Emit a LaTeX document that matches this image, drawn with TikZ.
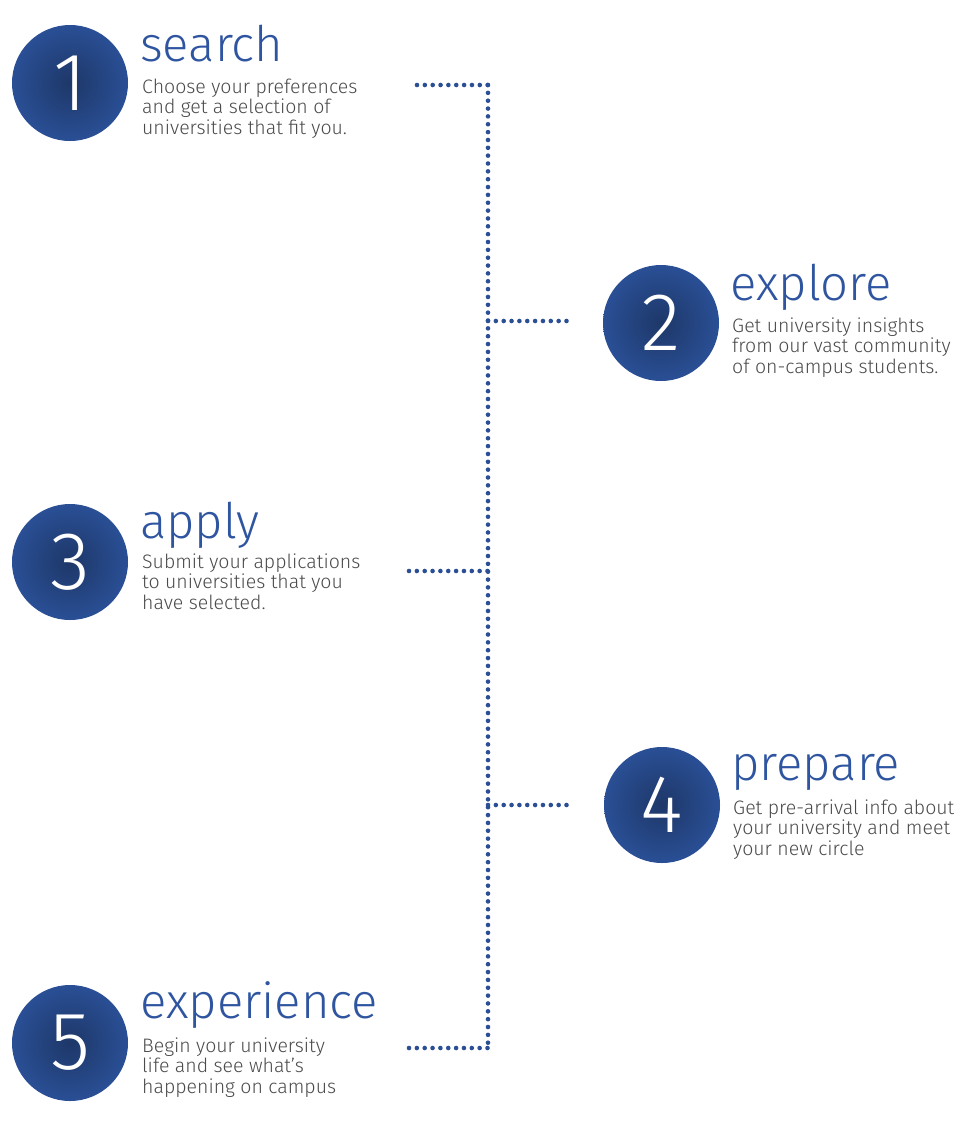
\documentclass[tikz,border=0pt]{standalone}
\usepackage{fontspec}
\setmainfont{Fira Sans Light}
\usetikzlibrary{calc}
\definecolor{stepblue}{HTML}{2A4F95}
\definecolor{titleblue}{HTML}{2F55A0}
\definecolor{textgray}{HTML}{4A4A4A}

\begin{document}
\begin{tikzpicture}[x=1pt,y=-1pt,
  numdisc/.style={circle, minimum size=116pt, inner sep=0pt, text=white,
    inner color=stepblue!70!black, outer color=stepblue,
    font=\fontsize{82}{82}\selectfont},
  steptitle/.style={anchor=base west, inner sep=0pt, text=titleblue,
    font=\fontsize{49}{49}\selectfont},
  stepdesc/.style={anchor=base west, inner sep=0pt, text=textgray, align=left,
    font=\fontsize{19.5}{20.2}\selectfont},
  dots/.style={stepblue, line width=4.6pt, line cap=round, dash pattern=on 0pt off 7.85pt}]
\useasboundingbox (0,0) rectangle (980,1130);

% numbered discs
\node[numdisc] (n1) at (70,83) {1};
\node[numdisc] (n2) at (661,323) {2};
\node[numdisc] (n3) at (70,562) {3};
\node[numdisc] (n4) at (662,805) {4};
\node[numdisc] (n5) at (70,1043) {5};

% titles and texts (text nodes sit on their last line)
\node[steptitle] (t1) at (140,61) {search};
\node[stepdesc] (d1) at (142,134) {Choose your preferences\\and get a selection of\\universities that fit you.};
\node[steptitle] (t2) at (730,300) {explore};
\node[stepdesc] (d2) at (732,373) {Get university insights\\from our vast community\\of on-campus students.};
\node[steptitle] (t3) at (140,538) {apply};
\node[stepdesc] (d3) at (142,609) {Submit your applications\\to universities that you\\have selected.};
\node[steptitle] (t4) at (731,780) {prepare};
\node[stepdesc] (d4) at (733,855) {Get pre-arrival info about\\your university and meet\\your new circle};
\node[steptitle] (t5) at (140,1018) {experience};
\node[stepdesc] (d5) at (142,1093) {Begin your university\\life and see what’s\\happening on campus};

% dotted timeline
\coordinate (j1) at (488,85);
\coordinate (j2) at (488,321);
\coordinate (j3) at (488,571);
\coordinate (j4) at (488,805);
\coordinate (j5) at (488,1048);
\coordinate (s1) at (417,85);
\coordinate (s2) at (568,321);
\coordinate (s3) at (409,571);
\coordinate (s4) at (568,805);
\coordinate (s5) at (409,1048);
\draw[dots] (j1) -- (j5);
\draw[dots] (s1) -- (j1);
\draw[dots] (j2) -- (s2);
\draw[dots] (s3) -- (j3);
\draw[dots] (j4) -- (s4);
\draw[dots] (s5) -- (j5);
\end{tikzpicture}
\end{document}
